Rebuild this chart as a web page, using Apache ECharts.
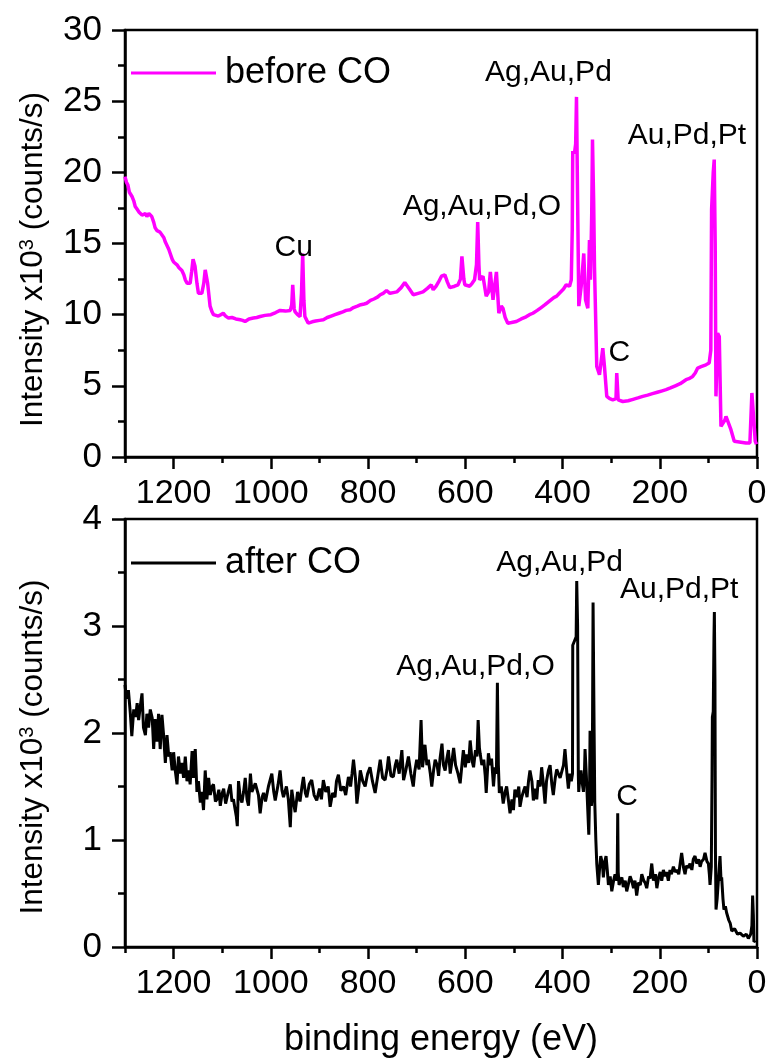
<!DOCTYPE html>
<html><head><meta charset="utf-8">
<script src="https://cdn.jsdelivr.net/npm/echarts@6/dist/echarts.min.js"></script>
<style>html,body{margin:0;padding:0;background:#fff}#c{width:769px;height:1058px}</style>
</head><body><div id="c"></div>
<script>
// ---------- data ----------
const xMajorTicks = [0, 200, 400, 600, 800, 1000, 1200];
const xMinorTicks = [100, 300, 500, 700, 900, 1100, 1300];
const seriesNames = ['before CO', 'after CO'];
const xTitle = 'binding energy (eV)';
const yTitle = 'Intensity x10{sup|3} (counts/s)';
const yTopRange = [0, 30, 5];
const yBottomRange = [0, 4, 1];

// [binding energy (eV), intensity x10^3]
const beforeCO = [
[1300,19.7],[1297,19.3],[1294,19.1],[1291,18.6],[1288,18.7],[1285.6,18.3],[1282,18.0],[1279,17.6],
[1275,17.4],[1271,17.2],[1268,17.3],[1265,17.0],[1262,17.0],[1258,17.1],[1255,16.9],[1251,17.1],
[1248,17.2],[1245,16.9],[1241,16.5],[1238,16.1],[1234,15.9],[1231,16.0],[1228,15.8],[1224,15.7],
[1220,15.4],[1217,15.1],[1214,15.0],[1210,14.6],[1207,14.3],[1203,13.9],[1200,13.7],[1196,13.6],
[1193,13.5],[1189,13.3],[1186,13.4],[1183,13.1],[1179,12.8],[1176,12.45],[1172,12.2],[1169,12.1],
[1166,12.2],[1163,13.0],[1160,13.9],[1156,13.4],[1152,12.2],[1149,11.5],[1145,11.6],[1142,11.5],
[1138,12.2],[1135,13.15],[1130,12.2],[1125,10.6],[1121,10.2],[1118,10.0],[1113,9.95],[1108,9.9],
[1103,10.0],[1098,10.1],[1093,9.9],[1087,9.76],[1080,9.8],[1072,9.7],[1063,9.64],[1058,9.6],
[1053,9.52],[1045,9.7],[1036,9.76],[1029,9.8],[1022,9.87],[1012,9.95],[1000,10.0],[990,10.15],
[981,10.3],[970,10.25],[960,10.3],[957,10.7],[955,12.1],[952,10.4],[950,10.2],[945,10.0],
[940,9.87],[937,11.5],[934.5,14.3],[932,11.0],[930,9.87],[926,9.6],[923,9.4],[915,9.5],
[908,9.55],[900,9.6],[892,9.64],[884,9.8],[876,9.9],[868,10.0],[860,10.1],[852,10.2],
[845,10.3],[837,10.35],[830,10.5],[822,10.6],[815,10.7],[808,10.75],[803,10.8],[795,11.0],
[788,11.1],[780,11.25],[775,11.4],[769,11.5],[762,11.7],[755,11.5],[748,11.55],[741,11.6],
[732,11.9],[724.5,12.26],[715,11.8],[707,11.4],[697,11.5],[687,11.6],[678,11.85],[670,12.1],
[666,11.75],[660,12.0],[655,12.3],[649,12.7],[642,12.8],[637,12.3],[632,11.9],[622,12.0],
[615,12.1],[610,12.5],[607,14.1],[603,12.5],[601,12.1],[596,12.05],[591,12.0],[586,12.2],
[581,12.45],[577,13.5],[574.5,16.5],[572,13.5],[570.5,12.45],[563.6,12.7],[557,11.3],[552,11.6],
[548.5,13.0],[543,11.05],[536,13.0],[531,10.1],[526,10.6],[522.6,10.45],[518,9.8],[512.6,9.4],
[505,9.45],[495,9.52],[485,9.7],[475,9.85],[468,10.0],[461,10.1],[452,10.3],[444,10.5],
[436,10.7],[427,10.95],[418,11.2],[412,11.3],[406.5,11.5],[398,11.8],[392.4,12.1],[385.6,12.0],
[382,12.45],[380,16.0],[379,21.5],[375.4,21.35],[373,22.0],[371.3,25.3],[369,18.0],[366.5,10.6],
[361.6,12.0],[356.3,14.3],[352.7,11.05],[348,10.45],[344.6,15.25],[342.5,12.45],[340,17.0],[338.4,22.3],
[336,18.0],[334.3,13.4],[329.6,6.36],[324,5.78],[317.2,7.65],[313.8,6.36],[309,4.26],[303,4.1],
[296.7,4.02],[290,4.1],[288.5,5.9],[286.5,5.9],[285.6,4.02],[276,3.9],[265,3.95],[255,4.05],
[245,4.15],[235,4.26],[225,4.35],[215,4.45],[205,4.55],[195,4.65],[187,4.73],[178,4.85],
[168,5.0],[158,5.15],[146,5.43],[140,5.5],[132.4,5.66],[127,5.9],[122,6.25],[115,6.35],
[105,6.48],[98.4,6.6],[95,7.5],[93.4,17.4],[90,20.0],[88,20.9],[86,15.0],[84.4,4.26],
[81,8.7],[78.5,8.6],[77.6,8.47],[74.1,2.15],[66,2.6],[63.8,2.85],[60.5,2.85],[53.6,1.92],
[46.8,1.1],[22.8,0.98],[14.6,0.98],[10.5,4.5],[7.2,4.6],[3.6,1.1],[1,0.9]
];

const afterCO = [
[1300,2.45],[1297,2.32],[1293,2.40],[1289,2.18],[1286,1.97],[1282,2.22],[1278,2.15],[1275,2.28],
[1272,2.12],[1268.5,2.25],[1265,2.37],[1262,2.05],[1258,1.98],[1255,2.18],[1251.5,2.05],[1248,2.22],
[1244,2.14],[1241,1.85],[1238,2.13],[1234,1.92],[1231,2.18],[1227.6,1.85],[1224,2.17],[1220.6,1.98],
[1217,1.72],[1213.6,1.98],[1210,1.78],[1207,1.82],[1203,1.65],[1200,1.82],[1196.6,1.65],[1193,1.52],
[1190,1.78],[1186,1.62],[1183,1.72],[1179.5,1.58],[1176,1.78],[1172.5,1.55],[1169,1.65],[1166,1.52],
[1162,1.83],[1159,1.58],[1155.5,1.85],[1152,1.45],[1149,1.55],[1145,1.35],[1142,1.45],[1138.5,1.28],
[1135,1.65],[1131.5,1.38],[1128,1.58],[1124.6,1.42],[1121,1.50],[1118,1.52],[1114,1.36],[1111,1.38],
[1107,1.47],[1104,1.32],[1100,1.44],[1097,1.48],[1093,1.34],[1090,1.35],[1087,1.46],[1083.5,1.52],
[1080,1.36],[1077,1.38],[1074,1.30],[1071,1.22],[1069,1.13],[1066.5,1.55],[1063,1.40],[1059.5,1.35],
[1056,1.45],[1052.7,1.58],[1049,1.38],[1046,1.32],[1042,1.62],[1039,1.45],[1036,1.44],[1032,1.53],
[1029,1.53],[1025.5,1.42],[1022,1.25],[1018,1.40],[1015,1.44],[1011,1.36],[1005,1.50],[998,1.62],
[994,1.45],[991,1.37],[985,1.52],[981,1.65],[977,1.46],[974,1.40],[968,1.50],[964,1.38],
[960,1.12],[957,1.47],[953,1.34],[950,1.26],[945,1.45],[940,1.36],[936,1.50],[933,1.59],
[929,1.44],[926,1.40],[921,1.52],[916,1.56],[911,1.42],[905.6,1.37],[900,1.48],[896,1.38],
[892,1.56],[887,1.45],[882,1.50],[878,1.31],[873,1.44],[868,1.40],[865,1.55],[861,1.61],
[856,1.46],[850.6,1.50],[846,1.42],[840.4,1.59],[836,1.50],[833,1.62],[830,1.75],[826,1.58],
[823,1.34],[819,1.50],[816,1.65],[811,1.55],[806,1.50],[801,1.62],[796,1.68],[791,1.55],
[785.5,1.44],[780,1.60],[775,1.75],[770,1.58],[765,1.56],[761,1.66],[758,1.78],[753,1.60],
[748,1.59],[744,1.70],[741,1.75],[736,1.62],[730.5,1.84],[727,1.56],[722,1.66],[717,1.78],
[712,1.62],[707,1.50],[704,1.64],[700,1.75],[695,1.66],[691,2.12],[688,1.68],[685,1.80],
[683,1.89],[679,1.70],[676,1.75],[672,1.62],[669,1.50],[665,1.66],[662,1.75],[658,1.70],
[655,1.60],[652,1.76],[648,1.90],[645,1.70],[641.5,1.65],[638,1.76],[634.7,1.84],[631,1.62],
[628,1.72],[624,1.86],[620,1.70],[615,1.62],[610.6,1.53],[607,1.70],[604,1.84],[600,1.68],
[597,1.80],[593,1.72],[590,1.93],[586,1.74],[583,1.68],[579,1.84],[576,1.78],[573.6,2.12],
[571,1.86],[569.5,1.81],[566,1.70],[562,1.75],[559,1.60],[557,1.44],[554,1.68],[552.5,1.81],
[549,1.70],[546,1.76],[542,1.50],[539,1.68],[536,1.62],[534,2.47],[532,1.70],[530,1.44],
[526,1.50],[522,1.34],[518,1.45],[515,1.50],[511,1.36],[508,1.25],[504,1.38],[501,1.28],
[498,1.47],[494,1.40],[490,1.50],[487.5,1.31],[484,1.40],[480,1.46],[477,1.50],[473,1.40],
[470,1.55],[467,1.65],[463,1.55],[460,1.37],[456,1.48],[453,1.38],[450,1.56],[446,1.50],
[443,1.68],[440,1.55],[436,1.34],[433,1.55],[429,1.65],[425.6,1.70],[422,1.52],[419,1.42],
[415,1.58],[412,1.66],[408.6,1.65],[405,1.58],[401.7,1.58],[398,1.70],[395,1.85],[391,1.62],
[388,1.48],[385,1.62],[382,1.55],[379.5,1.62],[379,2.82],[375,2.82],[372,2.90],[370.8,3.42],
[369,3.0],[367.5,1.60],[366.7,1.45],[364,1.62],[362,1.65],[360,1.55],[357,1.45],[355,1.62],
[353.7,1.85],[351,1.60],[349,1.38],[346,1.05],[344.5,1.40],[343.4,2.02],[341.5,1.60],[340.7,1.32],
[339,1.40],[337.2,3.22],[335,2.0],[333.7,1.35],[331.5,1.0],[329.6,0.78],[326.3,0.58],[324,0.72],
[321.4,0.85],[318,0.78],[316,0.65],[313,0.80],[310.5,0.85],[308,0.72],[305.6,0.58],[302,0.66],
[298.7,0.52],[295,0.62],[292,0.68],[288.5,0.62],[287.5,0.70],[286.5,1.25],[285.5,0.70],[283.7,0.58],
[281,0.62],[278,0.65],[275,0.56],[271,0.62],[268,0.52],[264,0.60],[261,0.66],[257.8,0.62],
[254,0.55],[251,0.62],[247.5,0.48],[244,0.60],[240,0.58],[237,0.68],[233,0.62],[230,0.60],
[226.8,0.55],[223,0.66],[220,0.64],[216.5,0.78],[213,0.62],[209,0.68],[206,0.55],[202,0.66],
[199,0.70],[196,0.62],[192.6,0.72],[189,0.66],[186,0.70],[182.4,0.62],[179,0.72],[176,0.68],
[172,0.75],[168,0.70],[165,0.72],[161,0.68],[158,0.78],[155,0.88],[151,0.74],[148,0.68],
[145,0.76],[141,0.74],[137.8,0.78],[134,0.72],[131,0.82],[127.5,0.85],[124,0.78],[120,0.82],
[117,0.75],[114,0.80],[110,0.82],[106.9,0.88],[103,0.80],[100,0.78],[98,0.68],[96.6,0.58],
[94,0.75],[92.5,1.6],[91.8,2.15],[90,2.2],[88.5,2.9],[87.7,3.13],[86.5,2.5],[85.5,0.9],
[84.3,0.35],[82,0.45],[79.5,0.62],[76.1,0.85],[74,0.62],[72.7,0.65],[70,0.45],[68,0.35],
[65,0.38],[62.5,0.32],[58,0.25],[55,0.22],[52,0.15],[46,0.17],[40,0.12],[34.7,0.13],
[28,0.10],[22,0.12],[17.8,0.08],[13,0.12],[10.5,0.2],[9,0.48],[7.5,0.3],[6.3,0.05],[3,0.06]
];

// peak annotations: [text, energy, intensity]
const beforeLabels = [
  ['Cu', 953, 14.7], ['Ag,Au,Pd,O', 566, 17.6], ['Ag,Au,Pd', 429, 27.0],
  ['C', 283, 7.36], ['Au,Pd,Pt', 144, 22.6]
];
const afterLabels = [
  ['Ag,Au,Pd,O', 579, 2.62], ['Ag,Au,Pd', 406, 3.59],
  ['C', 267, 1.40], ['Au,Pd,Pt', 160, 3.34]
];

// ---------- chart ----------
const FONT = '"Liberation Sans", Arial, Helvetica, sans-serif';
const BLACK = '#000';
const axisLineStyle = { color: BLACK, width: 2.5 };

function makeXAxes(gi, withName) {
  return [{
    type: 'value', gridIndex: gi, position: 'bottom', min: 0, max: 1300, inverse: true,
    axisLine: { show: true, onZero: false, lineStyle: axisLineStyle },
    axisTick: { show: true, length: 12, lineStyle: axisLineStyle, customValues: xMajorTicks },
    axisLabel: { show: true, customValues: xMajorTicks, formatter: v => String(v),
      fontSize: 34, color: BLACK, fontFamily: FONT, margin: 20 },
    splitLine: { show: false },
    name: withName ? xTitle : '', nameLocation: 'middle', nameGap: 75,
    nameTextStyle: { fontSize: 36, color: BLACK, fontFamily: FONT }
  }, {
    type: 'value', gridIndex: gi, position: 'bottom', min: 0, max: 1300, inverse: true,
    axisLine: { show: false },
    axisTick: { show: true, length: 6, lineStyle: axisLineStyle, customValues: xMinorTicks },
    axisLabel: { show: false },
    splitLine: { show: false }
  }];
}

function makeYAxis(gi, range, shift) {
  return {
    type: 'value', gridIndex: gi, min: range[0], max: range[1], interval: range[2],
    axisLine: { show: true, onZero: false, lineStyle: axisLineStyle },
    axisTick: { show: true, length: 13, lineStyle: axisLineStyle },
    minorTick: { show: true, splitNumber: 2, length: 7, lineStyle: axisLineStyle },
    axisLabel: { fontSize: 35, color: BLACK, fontFamily: FONT, margin: 23 },
    splitLine: { show: false }, minorSplitLine: { show: false },
    name: yTitle, nameLocation: 'middle', nameGap: 76, nameRotate: 90,
    nameTextStyle: {
      fontSize: 31.5, color: BLACK, fontFamily: FONT, padding: [0, shift, 0, 0],
      rich: { sup: { fontSize: 20, color: BLACK, fontFamily: FONT, verticalAlign: 'top' } }
    }
  };
}

function labelPoints(list) {
  return {
    symbol: 'rect', symbolSize: 1, silent: true, animation: false,
    itemStyle: { color: 'rgba(0,0,0,0)' },
    label: { show: true, position: 'inside', formatter: '{b}', fontSize: 30, color: BLACK, fontFamily: FONT },
    data: list.map(l => ({ name: l[0], coord: [l[1], l[2]] }))
  };
}

const gridBase = { left: 125, right: 12, show: true, borderColor: BLACK, borderWidth: 2.5,
  backgroundColor: 'rgba(0,0,0,0)', containLabel: false, outerBoundsMode: 'none' };

const legendBase = { orient: 'horizontal', left: 131, padding: 0, itemWidth: 85, itemHeight: 3,
  icon: 'rect', selectedMode: false,
  textStyle: { fontSize: 36, color: BLACK, fontFamily: FONT, padding: [0, 0, 0, 4] } };

const chart = echarts.init(document.getElementById('c'), null, { renderer: 'canvas' });
chart.setOption({
  animation: false,
  backgroundColor: '#fff',
  grid: [
    Object.assign({}, gridBase, { top: 30, height: 427 }),
    Object.assign({}, gridBase, { top: 519, height: 428 })
  ],
  legend: [
    Object.assign({}, legendBase, { data: [seriesNames[0]], top: 55 }),
    Object.assign({}, legendBase, { data: [seriesNames[1]], top: 545 })
  ],
  xAxis: [].concat(makeXAxes(0, false), makeXAxes(1, true)),
  yAxis: [makeYAxis(0, yTopRange, 32), makeYAxis(1, yBottomRange, 28)],
  series: [
    { name: seriesNames[0], type: 'line', xAxisIndex: 0, yAxisIndex: 0, data: beforeCO,
      symbol: 'none', showSymbol: false, lineStyle: { color: '#ff00ff', width: 3.5 },
      itemStyle: { color: '#ff00ff' }, markPoint: labelPoints(beforeLabels) },
    { name: seriesNames[1], type: 'line', xAxisIndex: 2, yAxisIndex: 1, data: afterCO,
      symbol: 'none', showSymbol: false, lineStyle: { color: '#000000', width: 3 },
      itemStyle: { color: '#000000' }, markPoint: labelPoints(afterLabels) }
  ]
});
</script></body></html>
